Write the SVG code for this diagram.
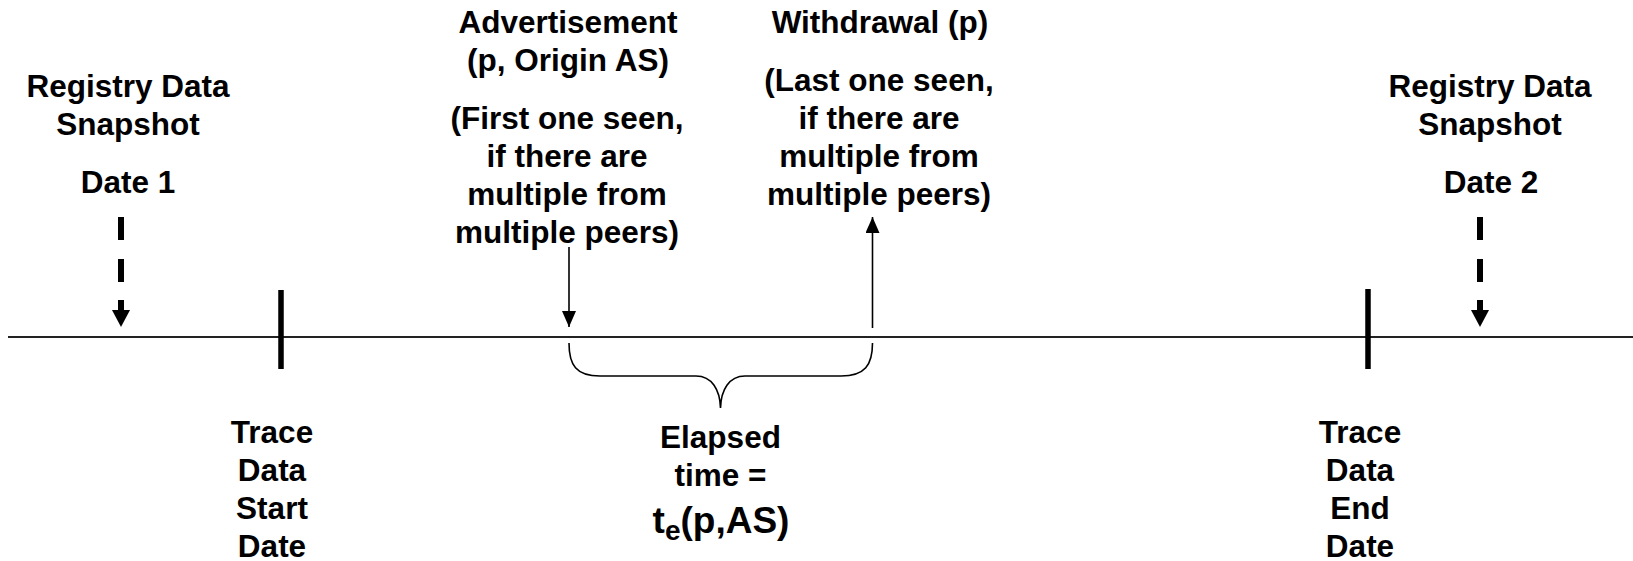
<svg xmlns="http://www.w3.org/2000/svg" width="1633" height="561" viewBox="0 0 1633 561">
<style>
text{font-family:"Liberation Sans",Arial,sans-serif;font-weight:bold;font-size:31.5px;fill:#000;text-anchor:middle}
.big{font-size:37px}
.sub{font-size:28px}
.axis{stroke:#222;stroke-width:2;fill:none}
.tick{stroke:#000;stroke-width:5.5}
.dash{stroke:#000;stroke-width:6;stroke-dasharray:23 19 23 18 100;fill:none}
.thin{stroke:#000;stroke-width:1.6;fill:none}
.brace{stroke:#000;stroke-width:1.6;fill:none}
</style>
<defs>
<marker id="ah" viewBox="0 0 16 14" refX="16" refY="7" markerWidth="16" markerHeight="14" markerUnits="userSpaceOnUse" orient="auto">
<path d="M0,0 L16,7 L0,14 z" fill="#000"/>
</marker>
</defs>
<rect width="1633" height="561" fill="#fff"/>
<g id="connectors">
<line class="axis" x1="8" y1="337" x2="1633" y2="337"/>
<line class="tick" x1="281" y1="290" x2="281" y2="369"/>
<line class="tick" x1="1368" y1="289" x2="1368" y2="369"/>
<line class="dash" x1="121" y1="217" x2="121" y2="311"/>
<polygon points="112,310 130,310 121,327" fill="#000"/>
<line class="dash" x1="1480" y1="217" x2="1480" y2="311"/>
<polygon points="1471,310 1489,310 1480,327" fill="#000"/>
<line class="thin" x1="569" y1="247" x2="569" y2="327" marker-end="url(#ah)"/>
<line class="thin" x1="872.5" y1="328" x2="872.5" y2="217" marker-end="url(#ah)"/>
<path class="brace" d="M569,343 C569,365 576,376 600,376 L696,376 C712,376 720,390 720.5,408 C721,390 729,376 745,376 L841,376 C865,376 872.5,365 872.5,343"/>
</g>
<g id="registry1">
<text x="128" y="97">Registry Data</text>
<text x="128" y="135">Snapshot</text>
<text x="128" y="193">Date 1</text>
</g>
<g id="registry2">
<text x="1490" y="97">Registry Data</text>
<text x="1490" y="135">Snapshot</text>
<text x="1491" y="193">Date 2</text>
</g>
<g id="advertisement">
<text x="568" y="33">Advertisement</text>
<text x="568" y="71">(p, Origin AS)</text>
<text x="567" y="129">(First one seen,</text>
<text x="567" y="167">if there are</text>
<text x="567" y="205">multiple from</text>
<text x="567" y="243">multiple peers)</text>
</g>
<g id="withdrawal">
<text x="880" y="33">Withdrawal (p)</text>
<text x="879" y="91">(Last one seen,</text>
<text x="879" y="129">if there are</text>
<text x="879" y="167">multiple from</text>
<text x="879" y="205">multiple peers)</text>
</g>
<g id="trace-start">
<text x="272" y="443">Trace</text>
<text x="272" y="481">Data</text>
<text x="272" y="519">Start</text>
<text x="272" y="557">Date</text>
</g>
<g id="trace-end">
<text x="1360" y="443">Trace</text>
<text x="1360" y="481">Data</text>
<text x="1360" y="519">End</text>
<text x="1360" y="557">Date</text>
</g>
<g id="elapsed">
<text x="720.5" y="448">Elapsed</text>
<text x="720.5" y="486">time =</text>
<text class="big" x="721" y="533">t<tspan class="sub" dy="7">e</tspan><tspan dy="-7">(p,AS)</tspan></text>
</g>
</svg>
